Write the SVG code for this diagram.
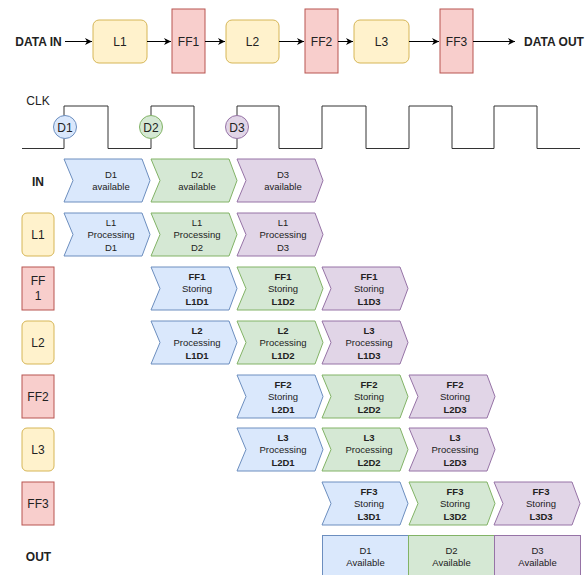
<svg xmlns="http://www.w3.org/2000/svg" width="585" height="575" viewBox="0 0 585 575">
<defs>
<marker id="ah" markerWidth="8" markerHeight="8" refX="7" refY="4" orient="auto" markerUnits="userSpaceOnUse">
<path d="M0,0.5 L7,4 L0,7.5 L2,4 Z" fill="#000"/>
</marker>
<path id="chev" d="M0,0 H78 L86,21.5 L78,43 H0 L9,21.5 Z"/>
</defs>
<style>
text{font-family:"Liberation Sans",Arial,sans-serif;fill:#222;text-anchor:middle}
.t12{font-size:12px}
.b{font-weight:bold}
.s{font-size:9.5px}
.lg{fill:#fff2cc;stroke:#d6b656;stroke-width:1}
.ff{fill:#f8cecc;stroke:#b85450;stroke-width:1}
.c1{fill:#dae8fc;stroke:#6c8ebf;stroke-width:1}
.c2{fill:#d5e8d4;stroke:#82b366;stroke-width:1}
.c3{fill:#e1d5e7;stroke:#9673a6;stroke-width:1}
.conn{stroke:#000;stroke-width:1;fill:none;marker-end:url(#ah)}
</style>
<rect width="585" height="575" fill="#fff"/>

<!-- top pipeline -->
<g id="dataIn"><text class="t12 b" x="38.5" y="45.5">DATA IN</text></g>
<g id="topL1"><rect class="lg" x="93" y="20" width="54" height="43" rx="6"/><text class="t12" x="120" y="45.5">L1</text></g>
<g id="topFF1"><rect class="ff" x="172" y="9" width="33" height="64"/><text class="t12" x="188.5" y="45.5">FF1</text></g>
<g id="topL2"><rect class="lg" x="226" y="20" width="53" height="43" rx="6"/><text class="t12" x="252.5" y="45.5">L2</text></g>
<g id="topFF2"><rect class="ff" x="305" y="9" width="33" height="64"/><text class="t12" x="321.5" y="45.5">FF2</text></g>
<g id="topL3"><rect class="lg" x="354" y="20" width="55" height="43" rx="6"/><text class="t12" x="381.5" y="45.5">L3</text></g>
<g id="topFF3"><rect class="ff" x="440" y="9" width="33" height="64"/><text class="t12" x="456.5" y="45.5">FF3</text></g>
<g id="dataOut"><text class="t12 b" x="554" y="45.5">DATA OUT</text></g>

<g id="connectors">
<line class="conn" x1="65" y1="41.5" x2="92" y2="41.5"/>
<line class="conn" x1="147" y1="41.5" x2="171" y2="41.5"/>
<line class="conn" x1="205" y1="41.5" x2="225" y2="41.5"/>
<line class="conn" x1="279" y1="41.5" x2="304" y2="41.5"/>
<line class="conn" x1="338" y1="41.5" x2="353" y2="41.5"/>
<line class="conn" x1="409" y1="41.5" x2="439" y2="41.5"/>
<line class="conn" x1="473" y1="41.5" x2="515" y2="41.5"/>
</g>

<!-- clock -->
<g id="clk">
<text class="t12" x="38" y="105">CLK</text>
<path d="M22,148.5 H64 V106 H108 V148.5 H151 V106 H194 V148.5 H237 V106 H279 V148.5 H322 V106 H366 V148.5 H409 V106 H452 V148.5 H494 V106 H537 V148.5 H580" fill="none" stroke="#333" stroke-width="1"/>
</g>
<g id="markD1"><circle class="c1" cx="65" cy="127" r="11.5"/><text class="t12" x="65" y="131.5">D1</text></g>
<g id="markD2"><circle class="c2" cx="151" cy="127" r="11.5"/><text class="t12" x="151" y="131.5">D2</text></g>
<g id="markD3"><circle class="c3" cx="237" cy="127" r="11.5"/><text class="t12" x="237" y="131.5">D3</text></g>

<!-- row labels -->
<g id="lblIN"><text class="t12 b" x="38" y="185.5">IN</text></g>
<g id="lblL1"><rect class="lg" x="22" y="213" width="32" height="43" rx="5"/><text class="t12" x="38" y="239">L1</text></g>
<g id="lblFF1"><rect class="ff" x="22" y="267" width="32" height="43"/><text class="t12" x="38" y="284.5">FF</text><text class="t12" x="38" y="300">1</text></g>
<g id="lblL2"><rect class="lg" x="22" y="321" width="32" height="43" rx="5"/><text class="t12" x="38" y="347">L2</text></g>
<g id="lblFF2"><rect class="ff" x="22" y="375" width="32" height="43"/><text class="t12" x="38" y="401">FF2</text></g>
<g id="lblL3"><rect class="lg" x="22" y="428" width="32" height="43" rx="5"/><text class="t12" x="38" y="454">L3</text></g>
<g id="lblFF3"><rect class="ff" x="22" y="482" width="32" height="43"/><text class="t12" x="38" y="508">FF3</text></g>
<g id="lblOUT"><text class="t12 b" x="38.5" y="560.5">OUT</text></g>

<!-- IN row -->
<g id="in1"><use href="#chev" class="c1" x="64" y="159"/><text class="s" x="111" y="178">D1</text><text class="s" x="111" y="190">available</text></g>
<g id="in2"><use href="#chev" class="c2" x="151" y="159"/><text class="s" x="197" y="178">D2</text><text class="s" x="197" y="190">available</text></g>
<g id="in3"><use href="#chev" class="c3" x="237" y="159"/><text class="s" x="283" y="178">D3</text><text class="s" x="283" y="190">available</text></g>

<!-- L1 row -->
<g id="l1a"><use href="#chev" class="c1" x="64" y="213"/><text class="s" x="111" y="225.5">L1</text><text class="s" x="111" y="238">Processing</text><text class="s" x="111" y="250.5">D1</text></g>
<g id="l1b"><use href="#chev" class="c2" x="151" y="213"/><text class="s" x="197" y="225.5">L1</text><text class="s" x="197" y="238">Processing</text><text class="s" x="197" y="250.5">D2</text></g>
<g id="l1c"><use href="#chev" class="c3" x="237" y="213"/><text class="s" x="283" y="225.5">L1</text><text class="s" x="283" y="238">Processing</text><text class="s" x="283" y="250.5">D3</text></g>

<!-- FF1 row -->
<g id="ff1a"><use href="#chev" class="c1" x="151" y="267"/><text class="s b" x="197" y="279.5">FF1</text><text class="s" x="197" y="292">Storing</text><text class="s b" x="197" y="304.5">L1D1</text></g>
<g id="ff1b"><use href="#chev" class="c2" x="237" y="267"/><text class="s b" x="283" y="279.5">FF1</text><text class="s" x="283" y="292">Storing</text><text class="s b" x="283" y="304.5">L1D2</text></g>
<g id="ff1c"><use href="#chev" class="c3" x="322" y="267"/><text class="s b" x="369" y="279.5">FF1</text><text class="s" x="369" y="292">Storing</text><text class="s b" x="369" y="304.5">L1D3</text></g>

<!-- L2 row -->
<g id="l2a"><use href="#chev" class="c1" x="151" y="321"/><text class="s b" x="197" y="333.5">L2</text><text class="s" x="197" y="346">Processing</text><text class="s b" x="197" y="358.5">L1D1</text></g>
<g id="l2b"><use href="#chev" class="c2" x="237" y="321"/><text class="s b" x="283" y="333.5">L2</text><text class="s" x="283" y="346">Processing</text><text class="s b" x="283" y="358.5">L1D2</text></g>
<g id="l2c"><use href="#chev" class="c3" x="322" y="321"/><text class="s b" x="369" y="333.5">L3</text><text class="s" x="369" y="346">Processing</text><text class="s b" x="369" y="358.5">L1D3</text></g>

<!-- FF2 row -->
<g id="ff2a"><use href="#chev" class="c1" x="237" y="375"/><text class="s b" x="283" y="387.5">FF2</text><text class="s" x="283" y="400">Storing</text><text class="s b" x="283" y="412.5">L2D1</text></g>
<g id="ff2b"><use href="#chev" class="c2" x="322" y="375"/><text class="s b" x="369" y="387.5">FF2</text><text class="s" x="369" y="400">Storing</text><text class="s b" x="369" y="412.5">L2D2</text></g>
<g id="ff2c"><use href="#chev" class="c3" x="409" y="375"/><text class="s b" x="455" y="387.5">FF2</text><text class="s" x="455" y="400">Storing</text><text class="s b" x="455" y="412.5">L2D3</text></g>

<!-- L3 row -->
<g id="l3a"><use href="#chev" class="c1" x="237" y="428"/><text class="s b" x="283" y="440.5">L3</text><text class="s" x="283" y="453">Processing</text><text class="s b" x="283" y="465.5">L2D1</text></g>
<g id="l3b"><use href="#chev" class="c2" x="322" y="428"/><text class="s b" x="369" y="440.5">L3</text><text class="s" x="369" y="453">Processing</text><text class="s b" x="369" y="465.5">L2D2</text></g>
<g id="l3c"><use href="#chev" class="c3" x="409" y="428"/><text class="s b" x="455" y="440.5">L3</text><text class="s" x="455" y="453">Processing</text><text class="s b" x="455" y="465.5">L2D3</text></g>

<!-- FF3 row -->
<g id="ff3a"><use href="#chev" class="c1" x="322" y="482"/><text class="s b" x="369" y="494.5">FF3</text><text class="s" x="369" y="507">Storing</text><text class="s b" x="369" y="519.5">L3D1</text></g>
<g id="ff3b"><use href="#chev" class="c2" x="409" y="482"/><text class="s b" x="455" y="494.5">FF3</text><text class="s" x="455" y="507">Storing</text><text class="s b" x="455" y="519.5">L3D2</text></g>
<g id="ff3c"><use href="#chev" class="c3" x="494" y="482"/><text class="s b" x="541" y="494.5">FF3</text><text class="s" x="541" y="507">Storing</text><text class="s b" x="541" y="519.5">L3D3</text></g>

<!-- OUT row -->
<g id="out1"><rect class="c1" x="322.5" y="535.5" width="86" height="45"/><text class="s" x="365.5" y="554">D1</text><text class="s" x="365.5" y="566">Available</text></g>
<g id="out2"><rect class="c2" x="408.5" y="535.5" width="86" height="45"/><text class="s" x="451.5" y="554">D2</text><text class="s" x="451.5" y="566">Available</text></g>
<g id="out3"><rect class="c3" x="494.5" y="535.5" width="86" height="45"/><text class="s" x="537.5" y="554">D3</text><text class="s" x="537.5" y="566">Available</text></g>
</svg>
